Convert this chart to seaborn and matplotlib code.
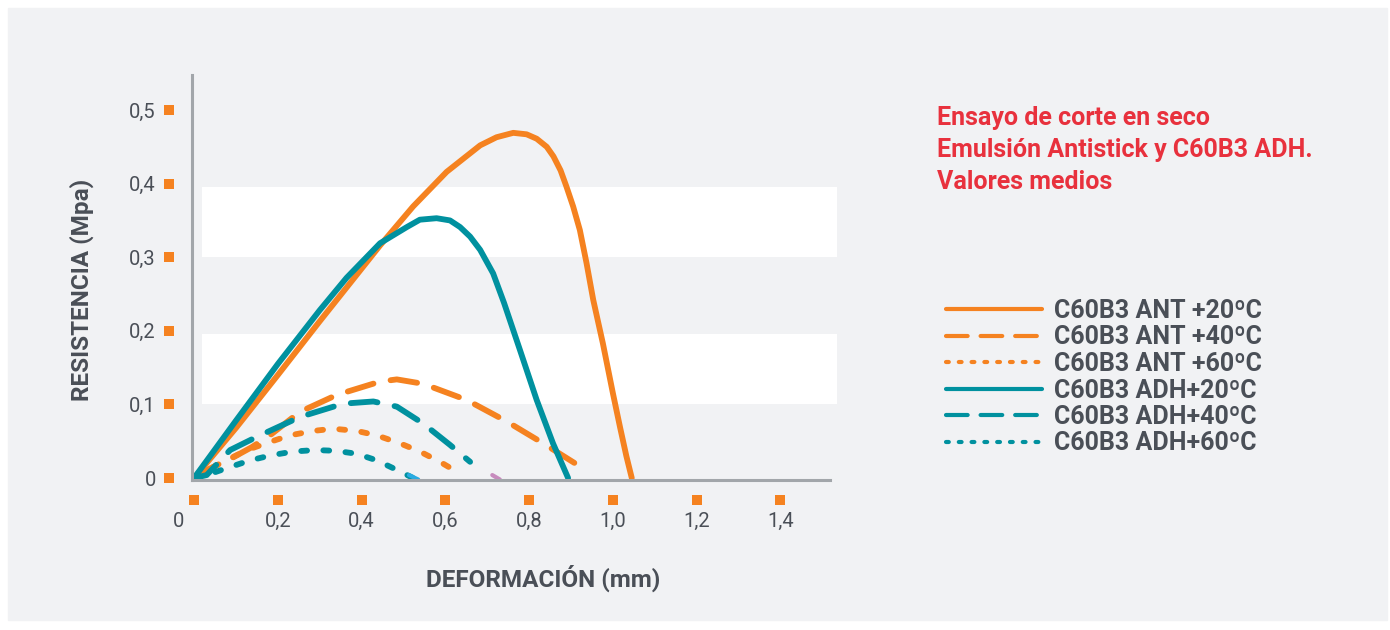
import matplotlib
matplotlib.use('Agg')
import matplotlib.pyplot as plt
from matplotlib.lines import Line2D
from matplotlib.patches import Rectangle
from matplotlib.transforms import blended_transform_factory, ScaledTranslation
import seaborn as sns
import pandas as pd

# curves (deformation mm, resistance MPa)
ant20_x = [0, 0.1, 0.2, 0.3, 0.444, 0.523, 0.603, 0.683, 0.722, 0.762, 0.794, 0.818, 0.842, 0.858, 0.875, 0.889, 0.905, 0.921, 0.937, 0.953, 0.976, 1.0, 1.017, 1.032, 1.045]
ant20_y = [0, 0.068, 0.140, 0.213, 0.316, 0.369, 0.416, 0.452, 0.463, 0.469, 0.467, 0.461, 0.450, 0.437, 0.418, 0.396, 0.369, 0.337, 0.292, 0.242, 0.183, 0.115, 0.069, 0.030, 0]
ant40_x = [0, 0.038, 0.09, 0.138, 0.181, 0.253, 0.341, 0.444, 0.484, 0.547, 0.651, 0.746, 0.834, 0.929]
ant40_y = [0, 0.013, 0.027, 0.042, 0.058, 0.090, 0.113, 0.131, 0.134, 0.128, 0.106, 0.077, 0.047, 0.013]
ant60_x = [0, 0.046, 0.126, 0.181, 0.229, 0.285, 0.332, 0.388, 0.436, 0.492, 0.539, 0.587, 0.635]
ant60_y = [0, 0.015, 0.038, 0.049, 0.058, 0.064, 0.067, 0.064, 0.058, 0.047, 0.036, 0.022, 0.006]
adh20_x = [0, 0.1, 0.2, 0.3, 0.364, 0.444, 0.508, 0.539, 0.579, 0.611, 0.635, 0.659, 0.683, 0.714, 0.740, 0.778, 0.818, 0.857, 0.893]
adh20_y = [0, 0.078, 0.155, 0.228, 0.272, 0.319, 0.341, 0.351, 0.353, 0.350, 0.341, 0.328, 0.310, 0.278, 0.238, 0.174, 0.106, 0.047, 0]
adh40_x = [0, 0.030, 0.086, 0.150, 0.253, 0.356, 0.428, 0.484, 0.547, 0.611, 0.659]
adh40_y = [0, 0.004, 0.038, 0.056, 0.083, 0.101, 0.104, 0.097, 0.074, 0.045, 0.022]
adh60_x = [0, 0.030, 0.086, 0.134, 0.185, 0.237, 0.289, 0.337, 0.388, 0.436, 0.484, 0.523]
adh60_y = [0, 0.004, 0.015, 0.024, 0.031, 0.036, 0.038, 0.037, 0.033, 0.024, 0.011, 0.0]

# stray bits of other series near the axis
blue_x = [0.513, 0.535]
blue_y = [0.004, -0.002]
pink_x = [0.712, 0.73]
pink_y = [0.004, -0.002]

series = ['C60B3 ANT +20ºC', 'C60B3 ANT +40ºC', 'C60B3 ANT +60ºC',
          'C60B3 ADH+20ºC', 'C60B3 ADH+40ºC', 'C60B3 ADH+60ºC']
xs = [ant20_x, ant40_x, ant60_x, adh20_x, adh40_x, adh60_x]
ys = [ant20_y, ant40_y, ant60_y, adh20_y, adh40_y, adh60_y]

x_ticks = [0, 0.2, 0.4, 0.6, 0.8, 1.0, 1.2, 1.4]
x_labels = ['0', '0,2', '0,4', '0,6', '0,8', '1,0', '1,2', '1,4']
y_ticks = [0, 0.1, 0.2, 0.3, 0.4, 0.5]
y_labels = ['0', '0,1', '0,2', '0,3', '0,4', '0,5']

ORANGE = '#f58220'
TEAL = '#00919f'
GREY = '#4a4f57'
RED = '#e8313d'
FONT = ['Roboto', 'DejaVu Sans']

colors = [ORANGE, ORANGE, ORANGE, TEAL, TEAL, TEAL]
dash_long = (4.6, 3.0)
dash_dot = (1.0, 2.8)
styles = ['', dash_long, dash_dot, '', dash_long, dash_dot]

rows = []
for name, sx, sy in zip(series, xs, ys):
    for a, b in zip(sx, sy):
        rows.append({'serie': name, 'x': a, 'y': b})
df = pd.DataFrame(rows)

sns.set_style('white')
plt.rcParams['font.family'] = FONT

W, H = 1390, 630
fig = plt.figure(figsize=(W / 100, H / 100), dpi=100)
fig.patch.set_facecolor('white')
fig.patches.append(Rectangle((8 / W, 1 - 620 / H), 1379 / W, 612 / H,
                             transform=fig.transFigure, color='#f1f2f4', zorder=-5))

ax = fig.add_axes([192 / W, 1 - 480 / H, 645 / W, 405 / H])
ax.patch.set_alpha(0)
ax.set_xlim(-0.005, 1.535)
ax.set_ylim(-0.0027, 0.5476)

# white bands
ax.axhspan(0.1, 0.196, xmin=0.0155, xmax=1, color='white', zorder=0, lw=0)
ax.axhspan(0.3, 0.395, xmin=0.0155, xmax=1, color='white', zorder=0, lw=0)

sns.lineplot(data=df, x='x', y='y', hue='serie', style='serie',
             palette=dict(zip(series, colors)), dashes=dict(zip(series, styles)),
             hue_order=series, style_order=series,
             linewidth=4.2, estimator=None, sort=False, legend=False, ax=ax,
             solid_capstyle='round', dash_capstyle='round',
             solid_joinstyle='round', dash_joinstyle='round')
ax.plot(blue_x, blue_y, color='#29abe2', lw=3, solid_capstyle='round')
ax.plot(pink_x, pink_y, color='#c78bbd', lw=3, solid_capstyle='round')

for s in ['top', 'right']:
    ax.spines[s].set_visible(False)
for s in ['left', 'bottom']:
    ax.spines[s].set_color('#a2a6aa')
    ax.spines[s].set_linewidth(2.2)
ax.spines['bottom'].set_bounds(-0.005, 1.518)

ax.set_xticks(x_ticks)
ax.set_xticklabels(x_labels)
ax.set_yticks(y_ticks)
ax.set_yticklabels(y_labels)
ax.tick_params(axis='both', length=0, labelsize=14.5, labelcolor=GREY)
ax.tick_params(axis='y', pad=26)
ax.tick_params(axis='x', pad=23)
ax.get_xticklabels()[0].set_transform(
    ax.get_xticklabels()[0].get_transform() + ScaledTranslation(-0.16, 0, fig.dpi_scale_trans))
ax.set_xlabel('')
ax.set_ylabel('')

# orange square tick marks
ty = blended_transform_factory(ax.transAxes, ax.transData) + ScaledTranslation(-0.23, 0, fig.dpi_scale_trans)
ax.plot([0] * len(y_ticks), y_ticks, 's', color=ORANGE, ms=6.5, mew=0,
        transform=ty, clip_on=False)
tx = blended_transform_factory(ax.transData, ax.transAxes) + ScaledTranslation(0, -0.20, fig.dpi_scale_trans)
ax.plot(x_ticks, [0] * len(x_ticks), 's', color=ORANGE, ms=6.5, mew=0,
        transform=tx, clip_on=False)

fig.text(82 / W, 1 - 290 / H, 'RESISTENCIA (Mpa)', rotation=90, ha='center', va='center',
         fontsize=17.5, fontweight='bold', color=GREY)
fig.text(543 / W, 1 - 578 / H, 'DEFORMACIÓN (mm)', ha='center', va='center',
         fontsize=17.5, fontweight='bold', color=GREY)

for i, line in enumerate(['Ensayo de corte en seco', 'Emulsión Antistick y C60B3 ADH.', 'Valores medios']):
    fig.text(937 / W, 1 - (118 + 32 * i) / H, line, ha='left', va='center',
             fontsize=18, fontweight='bold', color=RED)

leg_styles = ['-', (0, (5.2, 3.1)), (0, (0.67, 2.4)), '-', (0, (5.2, 3.1)), (0, (0.67, 2.4))]
handles = [Line2D([], [], color=c, lw=3, ls=ls, solid_capstyle='round', dash_capstyle='round')
           for c, ls in zip(colors, leg_styles)]
leg = ax.legend(handles, series, loc='upper left', bbox_to_anchor=(946 / W, 1 - 299 / H),
                bbox_transform=fig.transFigure, frameon=False, borderpad=0, borderaxespad=0,
                handlelength=3.84, handletextpad=0.5, labelspacing=0.1,
                prop={'family': FONT, 'weight': 'bold', 'size': 18})
for t in leg.get_texts():
    t.set_color(GREY)

fig.savefig('out.png', dpi=100)
